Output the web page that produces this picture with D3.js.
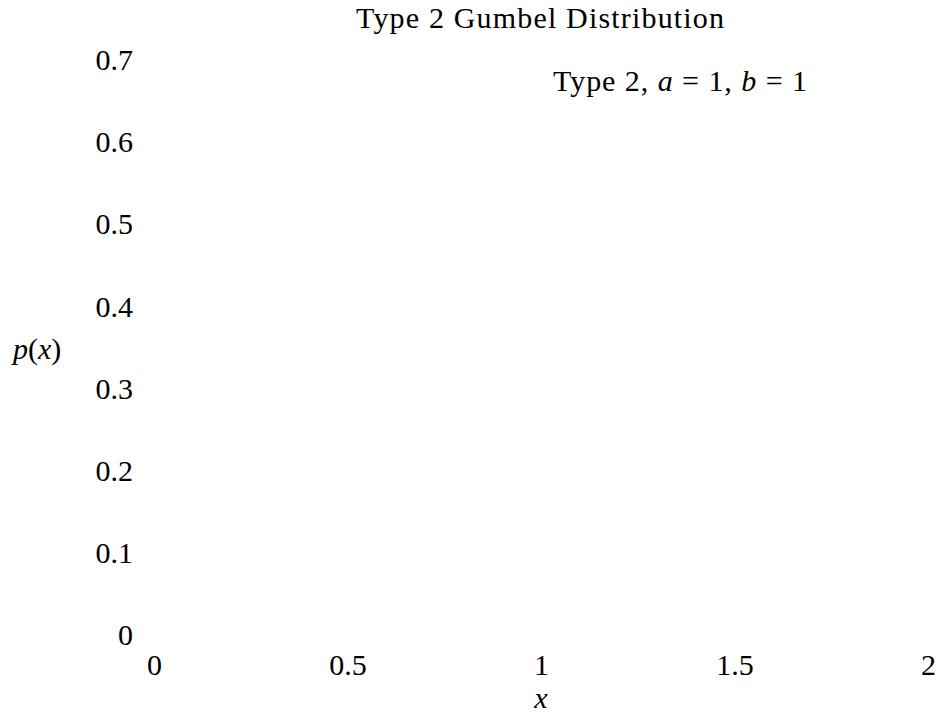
<!DOCTYPE html>
<html>
<head>
<meta charset="utf-8">
<script src="https://cdn.jsdelivr.net/npm/d3@7/dist/d3.min.js"></script>
<style>
  html, body { margin: 0; padding: 0; background: #fff; }
  svg { display: block; }
  text { font-family: "Liberation Serif", "Times New Roman", serif; fill: #000; }
</style>
</head>
<body>
<svg id="chart" width="940" height="716"></svg>
<script>
// ---- data ----
const chartTitle = "Type 2 Gumbel Distribution";
const xTicks = [0, 0.5, 1, 1.5, 2];
const yTicks = [0, 0.1, 0.2, 0.3, 0.4, 0.5, 0.6, 0.7];
const xDomain = [0, 2];
const yDomain = [0, 0.7];
const legendParts = [
  { t: "Type 2, ", italic: false },
  { t: "a", italic: true },
  { t: " = 1, ", italic: false },
  { t: "b", italic: true },
  { t: " = 1", italic: false }
];

// ---- layout ----
const FS = 30;
const svg = d3.select("#chart");

const x = d3.scaleLinear().domain(xDomain).range([154, 928]);
const y = d3.scaleLinear().domain(yDomain).range([635, 60]);

const fmt = v => String(+v.toFixed(2));

// x axis
const gx = svg.append("g")
  .attr("transform", "translate(0,635)")
  .call(d3.axisBottom(x).tickValues(xTicks).tickFormat(fmt).tickSize(0).tickPadding(0));
gx.select(".domain").remove();
gx.selectAll("line").remove();
gx.selectAll("text")
  .attr("y", 40).attr("dy", null)
  .style("font-size", FS + "px")
  .style("font-family", '"Liberation Serif", serif')
  .attr("fill", "#000");

// y axis
const gy = svg.append("g")
  .attr("transform", "translate(133,0)")
  .call(d3.axisLeft(y).tickValues(yTicks).tickFormat(fmt).tickSize(0).tickPadding(0));
gy.select(".domain").remove();
gy.selectAll("line").remove();
gy.selectAll("text")
  .style("font-size", FS + "px")
  .style("font-family", '"Liberation Serif", serif')
  .attr("fill", "#000");

// title
svg.append("text")
  .attr("x", 540).attr("y", 28)
  .attr("text-anchor", "middle")
  .attr("textLength", 368).attr("lengthAdjust", "spacing")
  .style("font-size", FS + "px")
  .text(chartTitle);

// x label
svg.append("text")
  .attr("x", 541).attr("y", 708)
  .attr("text-anchor", "middle")
  .style("font-size", FS + "px")
  .style("font-style", "italic")
  .text("x");

// y label p(x)
const yl = svg.append("text")
  .attr("x", 13).attr("y", 359)
  .style("font-size", FS + "px");
yl.append("tspan").style("font-style", "italic").text("p");
yl.append("tspan").text("(");
yl.append("tspan").style("font-style", "italic").text("x");
yl.append("tspan").text(")");

// legend text
const lg = svg.append("text")
  .attr("x", 807).attr("y", 91)
  .attr("text-anchor", "end")
  .attr("textLength", 254).attr("lengthAdjust", "spacing")
  .style("font-size", FS + "px");
lg.selectAll("tspan").data(legendParts).join("tspan")
  .style("font-style", d => d.italic ? "italic" : "normal")
  .text(d => d.t);
</script>
</body>
</html>
